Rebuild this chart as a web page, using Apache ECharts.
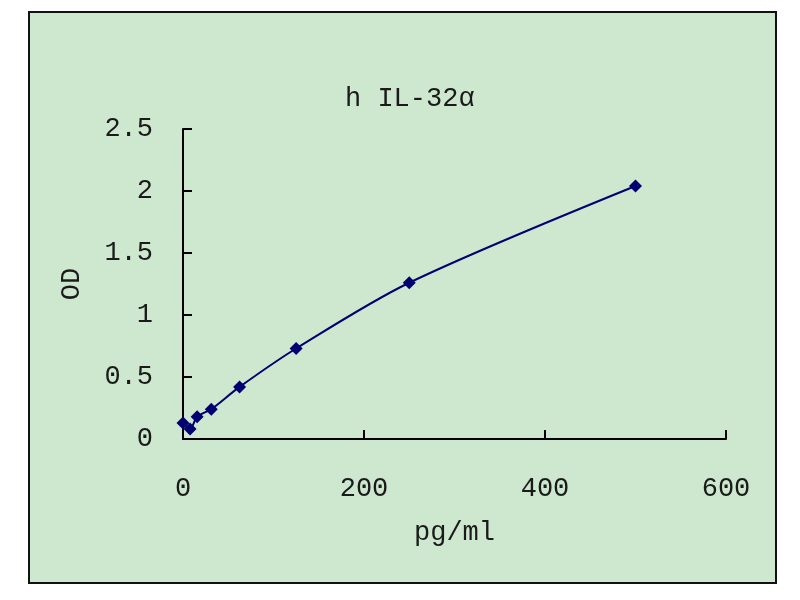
<!DOCTYPE html>
<html>
<head>
<meta charset="utf-8">
<script src="https://cdn.jsdelivr.net/npm/echarts@6/dist/echarts.min.js"></script>
<style>
  html, body { margin: 0; padding: 0; background: #fff; }
  #chart { width: 800px; height: 600px; }
</style>
</head>
<body>
<div id="chart"></div>
<script>
// standard curve, doubling dilutions
const conc = [0, 7.8, 15.6, 31.25, 62.5, 125, 250, 500]
const od = [0.13, 0.08, 0.18, 0.24, 0.42, 0.73, 1.26, 2.04]
const xTicks = [0, 200, 400, 600]
const yTicks = [0, 0.5, 1, 1.5, 2, 2.5]

const font = '"Liberation Mono", "DejaVu Sans Mono", monospace'
const navy = '#000070'

const option = {
  animation: false,
  backgroundColor: '#fff',
  graphic: [{
    type: 'rect',
    z: -100,
    shape: { x: 29, y: 12, width: 747, height: 571 },
    style: { fill: '#cde8cf', stroke: '#111', lineWidth: 2 }
  }],
  title: {
    text: 'h IL-32α',
    left: 340,
    top: 80,
    textStyle: { fontFamily: font, fontSize: 27, fontWeight: 'normal', color: '#1a1a1a' }
  },
  grid: { left: 183, right: 74, top: 129, bottom: 161 },
  xAxis: {
    type: 'value',
    min: xTicks[0],
    max: xTicks[xTicks.length - 1],
    interval: 200,
    name: 'pg/ml',
    nameLocation: 'middle',
    nameGap: 80,
    nameTextStyle: { fontFamily: font, fontSize: 27, color: '#1a1a1a' },
    axisLine: { show: true, lineStyle: { color: '#000', width: 2 } },
    axisTick: { show: true, inside: true, length: 9, lineStyle: { color: '#000', width: 2 } },
    axisLabel: { margin: 36, fontFamily: font, fontSize: 27, color: '#1a1a1a' },
    splitLine: { show: false }
  },
  yAxis: {
    type: 'value',
    min: yTicks[0],
    max: yTicks[yTicks.length - 1],
    interval: 0.5,
    name: 'OD',
    nameLocation: 'middle',
    nameGap: 98,
    nameTextStyle: { fontFamily: font, fontSize: 27, color: '#1a1a1a' },
    axisLine: { show: true, lineStyle: { color: '#000', width: 2 } },
    axisTick: { show: true, inside: true, length: 9, lineStyle: { color: '#000', width: 2 } },
    axisLabel: { margin: 30, fontFamily: font, fontSize: 27, color: '#1a1a1a' },
    splitLine: { show: false }
  },
  series: [{
    type: 'line',
    data: conc.map((c, i) => [c, od[i]]),
    smooth: 0.3,
    symbol: 'diamond',
    symbolSize: 13,
    itemStyle: { color: navy },
    lineStyle: { color: navy, width: 2 }
  }]
}

const chart = echarts.init(document.getElementById('chart'))
chart.setOption(option)
</script>
</body>
</html>
